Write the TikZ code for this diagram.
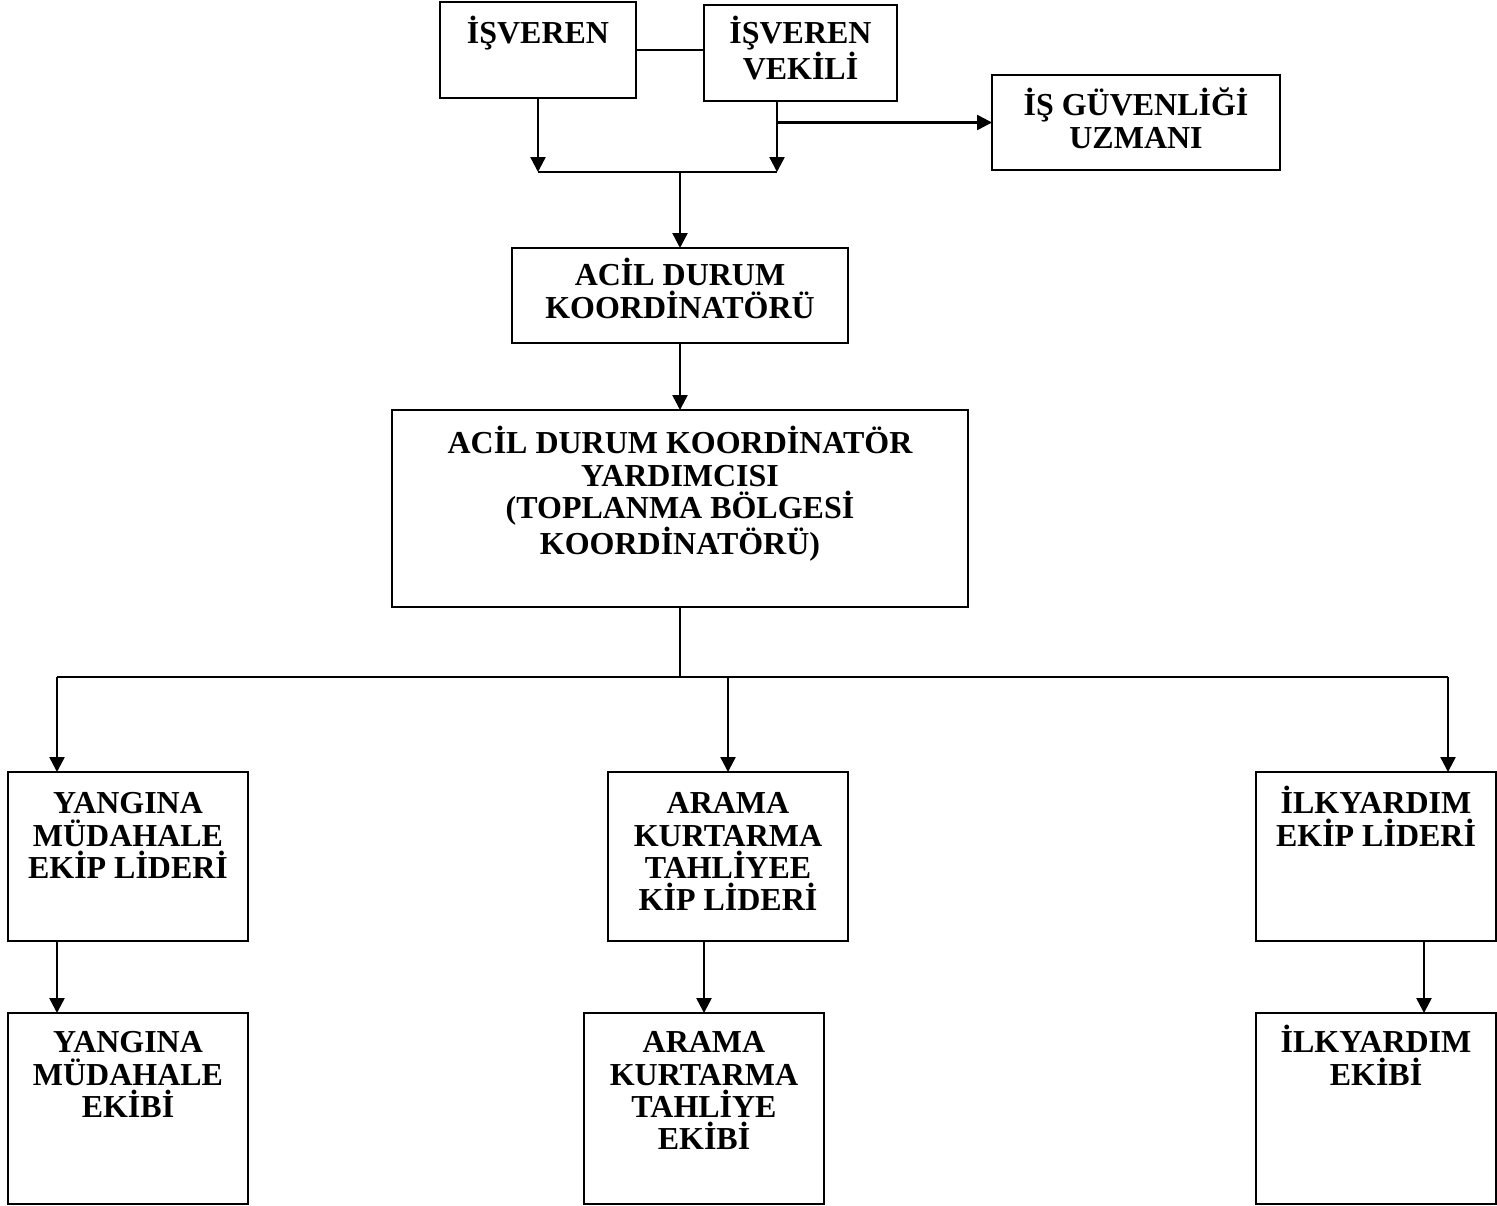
\documentclass[tikz,border=0pt]{standalone}
\usepackage{fontspec}
\setmainfont{Liberation Serif}
\usetikzlibrary{arrows.meta}
\newcommand{\ust}{\rule{0pt}{16pt}}
\begin{document}
\begin{tikzpicture}[x=0.02cm, y=-0.02cm,
		kutu/.style={draw, line width=1.1pt, inner sep=0pt, outer sep=0pt},
		yazi/.style={anchor=north, align=center, inner sep=0pt, font=\fontsize{18.2pt}{18.4pt}\selectfont\bfseries},
		ok/.style={line width=1.4pt, -{Triangle[length=0.3cm, width=0.3cm]}},
		cizgi/.style={line width=1pt}]
	\useasboundingbox (0,0) rectangle (1497,1206);
	% Isveren and vekili
	\node[kutu, minimum width=3.92cm, minimum height=1.92cm] (isv) at (538,50) {};
	\node[yazi] (isvY) at ([yshift=-7.6pt]isv.north) {\ust İŞVEREN};
	\node[kutu, minimum width=3.86cm, minimum height=1.92cm] (vek) at (800.5,53) {};
	\node[yazi] (vekY) at ([yshift=-5.9pt]vek.north) {\ust İŞVEREN\\VEKİLİ};
	\node[kutu, minimum width=5.76cm, minimum height=1.9cm] (uzm) at (1136,122.5) {};
	\node[yazi] (uzmY) at ([yshift=-7pt]uzm.north) {\ust İŞ GÜVENLİĞİ\\UZMANI};
	\draw[cizgi] (isv.east) -- (isv.east -| vek.west);
	% Birlesme cizgisi
	\coordinate (bar) at (680,172);
	\coordinate (vekAlt) at ([xshift=-0.47cm]vek.south);
	\draw[ok] (isv.south) -- (isv.south |- bar);
	\draw[ok] (vekAlt) -- (vekAlt |- bar);
	\draw[ok] (vekAlt |- uzm.west) -- (uzm.west);
	\draw[cizgi] (isv.south |- bar) -- (vekAlt |- bar);
	% Koordinatorler
	\node[kutu, minimum width=6.72cm, minimum height=1.9cm] (koord) at (680,295.5) {};
	\node[yazi] (koordY) at ([yshift=-5.3pt]koord.north) {\ust ACİL DURUM\\KOORDİNATÖRÜ};
	\node[kutu, minimum width=11.52cm, minimum height=3.94cm] (yard) at (680,508.5) {};
	\node[yazi] (yardY) at ([yshift=-8.7pt]yard.north) {\ust ACİL DURUM KOORDİNATÖR\\YARDIMCISI\\(TOPLANMA BÖLGESİ\\KOORDİNATÖRÜ)};
	\draw[ok] (bar) -- (koord.north);
	\draw[ok] (koord.south) -- (yard.north);
	% Ekip liderleri
	\node[kutu, minimum width=4.8cm, minimum height=3.38cm] (yl) at (128,856.5) {};
	\node[yazi] (ylY) at ([yshift=-7.6pt]yl.north) {\ust YANGINA\\MÜDAHALE\\EKİP LİDERİ};
	\node[kutu, minimum width=4.8cm, minimum height=3.38cm] (al) at (728,856.5) {};
	\node[yazi] (alY) at ([yshift=-7.6pt]al.north) {\ust ARAMA\\KURTARMA\\TAHLİYEE\\KİP LİDERİ};
	\node[kutu, minimum width=4.8cm, minimum height=3.38cm] (il) at (1376,856.5) {};
	\node[yazi] (ilY) at ([yshift=-7.6pt]il.north) {\ust İLKYARDIM\\EKİP LİDERİ};
	\coordinate (dag) at (680,677);
	\coordinate (sol) at (57,677);
	\coordinate (sag) at (1448,677);
	\draw[cizgi] (yard.south) -- (dag);
	\draw[cizgi] (sol) -- (sag);
	\draw[ok] (sol) -- (sol |- yl.north);
	\draw[ok] (al.north |- dag) -- (al.north);
	\draw[ok] (sag) -- (sag |- il.north);
	% Ekipler
	\node[kutu, minimum width=4.8cm, minimum height=3.82cm] (ye) at (128,1108.5) {};
	\node[yazi] (yeY) at ([yshift=-6.5pt]ye.north) {\ust YANGINA\\MÜDAHALE\\EKİBİ};
	\node[kutu, minimum width=4.8cm, minimum height=3.82cm] (ae) at (704,1108.5) {};
	\node[yazi] (aeY) at ([yshift=-6.5pt]ae.north) {\ust ARAMA\\KURTARMA\\TAHLİYE\\EKİBİ};
	\node[kutu, minimum width=4.8cm, minimum height=3.82cm] (ie) at (1376,1108.5) {};
	\node[yazi] (ieY) at ([yshift=-6.5pt]ie.north) {\ust İLKYARDIM\\EKİBİ};
	\draw[ok] (sol |- yl.south) -- (sol |- ye.north);
	\draw[ok] (ae.north |- al.south) -- (ae.north);
	\draw[ok] ([xshift=0.96cm]il.south) -- ([xshift=0.96cm]ie.north);
\end{tikzpicture}
\end{document}
